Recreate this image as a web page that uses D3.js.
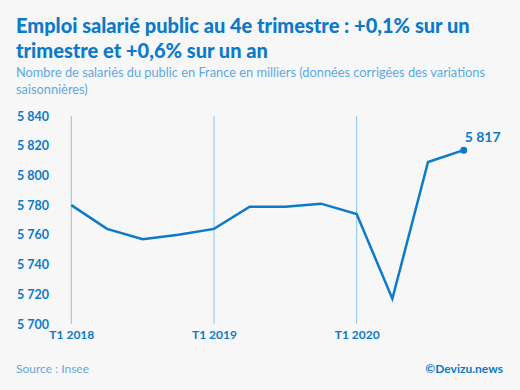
<!DOCTYPE html>
<html><head><meta charset="utf-8">
<script src="https://cdn.jsdelivr.net/npm/d3@7"></script>
<style>
html,body{margin:0;padding:0;background:#f7f7f7;}
svg{display:block;font-family:Lato,"Open Sans",sans-serif;}
</style></head>
<body><svg id="c" width="520" height="390"></svg>
<script>
const quarters = ["T1 2018","T2 2018","T3 2018","T4 2018","T1 2019","T2 2019","T3 2019","T4 2019","T1 2020","T2 2020","T3 2020","T4 2020"];
const values = [5780,5764,5757,5760,5764,5779,5779,5781,5774,5717,5809,5817];
const yTicks = [5700,5720,5740,5760,5780,5800,5820,5840];
const xTickLabels = ["T1 2018","T1 2019","T1 2020"];

const svg = d3.select("#c");
const blue = "#0b7ac8", light = "#5ea9de";
svg.append("rect").attr("width",520).attr("height",390).attr("fill","#f7f7f7");

const x = d3.scalePoint().domain(quarters).range([71.3, 463.7]);
const y = d3.scaleLinear().domain([5700,5840]).range([324,116]);

// titles
const t = svg.append("text").attr("fill",blue).attr("font-weight",900).attr("font-size",20);
t.append("tspan").attr("x",16).attr("y",33).text("Emploi salarié public au 4e trimestre : +0,1% sur un");
t.append("tspan").attr("x",16).attr("y",58).text("trimestre et +0,6% sur un an");
const s = svg.append("text").attr("fill",light).attr("font-size",12.8);
s.append("tspan").attr("x",16).attr("y",77).text("Nombre de salariés du public en France en milliers (données corrigées des variations");
s.append("tspan").attr("x",16).attr("y",94).text("saisonnières)");

// vertical grid
svg.append("g").selectAll("line").data(xTickLabels).join("line")
  .attr("x1",d=>x(d)).attr("x2",d=>x(d)).attr("y1",y(5840)).attr("y2",y(5700))
  .attr("stroke","#8cc3ea").attr("stroke-width",1);

// y axis
const yAxis = d3.axisLeft(y).tickValues(yTicks).tickSize(0).tickPadding(0)
  .tickFormat(d=>d3.format(",")(d).replace(",", " "));
const ga = svg.append("g").attr("transform","translate(17,0)").call(yAxis);
ga.select(".domain").remove();
ga.selectAll("text").attr("text-anchor","start").attr("fill",blue).attr("font-weight",700)
  .attr("font-size",12.5).attr("font-family","Lato,'Open Sans',sans-serif");

// x axis
const xAxis = d3.axisBottom(x).tickValues(xTickLabels).tickSize(0).tickPadding(0);
const gx = svg.append("g").attr("transform","translate(0,330)").call(xAxis);
gx.select(".domain").remove();
gx.selectAll("text").attr("fill",blue).attr("font-weight",700).attr("font-size",12)
  .attr("dy","0.71em").attr("font-family","Lato,'Open Sans',sans-serif");

// line
const data = quarters.map((q,i)=>({q, v: values[i]}));
svg.append("path").datum(data)
  .attr("fill","none").attr("stroke",blue).attr("stroke-width",2.5).attr("stroke-linejoin","miter")
  .attr("d", d3.line().x(d=>x(d.q)).y(d=>y(d.v)));
const last = data[data.length-1];
svg.append("circle").attr("cx",x(last.q)).attr("cy",y(last.v)).attr("r",3.5).attr("fill",blue);
svg.append("text").attr("x",x(last.q)+1).attr("y",y(last.v)-8).attr("fill",blue)
  .attr("font-weight",700).attr("font-size",14).text(d3.format(",")(last.v).replace(","," "));

// footer
svg.append("text").attr("x",16).attr("y",373).attr("fill",light).attr("font-size",12).text("Source : Insee");
svg.append("text").attr("x",503).attr("y",373).attr("text-anchor","end").attr("fill",blue)
  .attr("font-weight",700).attr("font-size",12).text("©Devizu.news");
</script></body></html>
